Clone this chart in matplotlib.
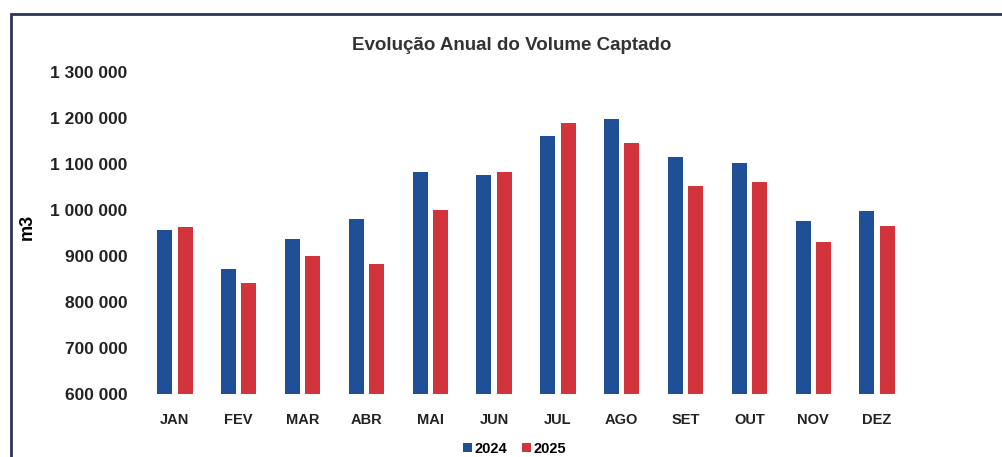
import numpy as np
import matplotlib

matplotlib.use("Agg")
import matplotlib.pyplot as plt
from matplotlib.patches import Rectangle
from matplotlib.ticker import FuncFormatter

months = ["JAN", "FEV", "MAR", "ABR", "MAI", "JUN", "JUL", "AGO", "SET", "OUT", "NOV", "DEZ"]
vol_2024 = [956000, 872000, 937000, 980000, 1083000, 1076000, 1161000, 1198000, 1115000, 1102000, 976000, 998000]
vol_2025 = [963000, 841000, 900000, 883000, 1000000, 1083000, 1189000, 1146000, 1052000, 1061000, 930000, 965000]

plt.rcParams["font.family"] = ["Liberation Sans", "DejaVu Sans"]
plt.rcParams["font.weight"] = "bold"

fig = plt.figure(figsize=(10.03, 4.57), dpi=100)
ax = fig.add_axes([143 / 1003, 63 / 457, 766 / 1003, 322 / 457])

x = np.arange(len(months))
w = 0.235
ax.bar(x - 0.16, vol_2024, width=w, color="#1f4f96", label="2024")
ax.bar(x + 0.16, vol_2025, width=w, color="#d1343b", label="2025")

ax.set_ylim(600000, 1300000)
ax.set_xlim(-0.5, 11.5)
ax.set_yticks(np.arange(600000, 1300001, 100000))
ax.yaxis.set_major_formatter(FuncFormatter(lambda v, p: f"{int(v):,}".replace(",", " ")))
ax.set_xticks(x)
ax.set_xticklabels(months)
for s in ax.spines.values():
    s.set_visible(False)
ax.tick_params(axis="both", length=0)
ax.tick_params(axis="y", labelsize=12.5, pad=11, colors="#222222")
ax.tick_params(axis="x", labelsize=10.5, pad=14, colors="#222222")
ax.set_ylabel("m3", fontsize=13, fontweight="bold")
ax.yaxis.set_label_coords(-0.14, 0.52)

fig.text(0.51, 0.9, "Evolução Anual do Volume Captado", ha="center", va="center",
         fontsize=13.5, fontweight="bold", color="#333333")
ax.legend(loc="center", bbox_to_anchor=(0.485, -0.17), ncol=2, frameon=False,
          fontsize=10.5, handlelength=0.6, handleheight=0.6, handletextpad=0.2,
          columnspacing=1.0)

# scanned frame border
fig.patches.append(Rectangle((11 / 1003, -0.01), 0.995, (457 - 14) / 457 + 0.01,
                             transform=fig.transFigure, fill=False,
                             edgecolor="#2b3650", linewidth=2))

fig.savefig("out.png", dpi=100)
